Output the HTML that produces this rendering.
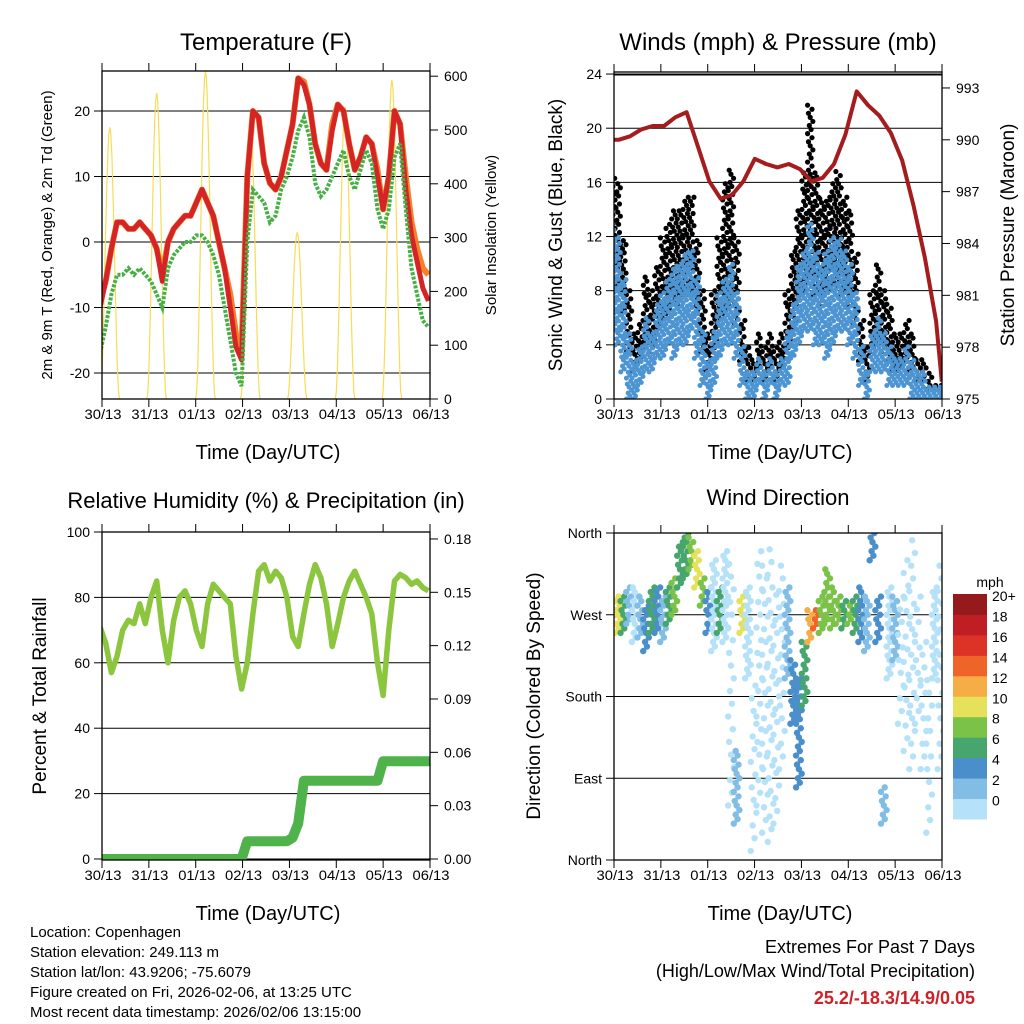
<!DOCTYPE html>
<html><head><meta charset="utf-8"><style>
html,body{margin:0;padding:0;background:#fff;}
svg{display:block;font-family:"Liberation Sans",sans-serif;}
</style></head><body>
<svg id="s" width="1024" height="1024" viewBox="0 0 1024 1024" xmlns="http://www.w3.org/2000/svg">
<defs>
<clipPath id="c1"><rect x="102" y="71" width="328" height="328"/></clipPath>
<clipPath id="c2"><rect x="614" y="72" width="328" height="327"/></clipPath>
<clipPath id="c3"><rect x="102" y="532" width="328" height="328"/></clipPath>
<clipPath id="c4"><rect x="614" y="533" width="328" height="327"/></clipPath>
</defs>
<text x="266" y="50" font-size="24" text-anchor="middle">Temperature (F)</text>
<text x="778" y="50" font-size="24" text-anchor="middle">Winds (mph) &amp; Pressure (mb)</text>
<text x="266" y="508" font-size="22" text-anchor="middle">Relative Humidity (%) &amp; Precipitation (in)</text>
<text x="778" y="505" font-size="22" text-anchor="middle">Wind Direction</text>
<text transform="translate(52,235) rotate(-90)" font-size="15" text-anchor="middle">2m &amp; 9m T (Red, Orange) &amp; 2m Td (Green)</text>
<text transform="translate(496,235) rotate(-90)" font-size="15" text-anchor="middle">Solar Insolation (Yellow)</text>
<text transform="translate(562,235) rotate(-90)" font-size="19" text-anchor="middle">Sonic Wind &amp; Gust (Blue, Black)</text>
<text transform="translate(1014,235) rotate(-90)" font-size="19" text-anchor="middle">Station Pressure (Maroon)</text>
<text transform="translate(46,696) rotate(-90)" font-size="19" text-anchor="middle">Percent &amp; Total Rainfall</text>
<text transform="translate(540,696) rotate(-90)" font-size="19" text-anchor="middle">Direction (Colored By Speed)</text>
<text x="268" y="459" font-size="20" text-anchor="middle">Time (Day/UTC)</text>
<text x="780" y="459" font-size="20" text-anchor="middle">Time (Day/UTC)</text>
<text x="268" y="920" font-size="20" text-anchor="middle">Time (Day/UTC)</text>
<text x="780" y="920" font-size="20" text-anchor="middle">Time (Day/UTC)</text>
<g font-size="15">
<text x="30" y="937">Location: Copenhagen</text>
<text x="30" y="957">Station elevation: 249.113 m</text>
<text x="30" y="977">Station lat/lon: 43.9206; -75.6079</text>
<text x="30" y="997">Figure created on Fri, 2026-02-06, at 13:25 UTC</text>
<text x="30" y="1017">Most recent data timestamp: 2026/02/06 13:15:00</text>
</g>
<text x="975" y="953" font-size="18" text-anchor="end">Extremes For Past 7 Days</text>
<text x="975" y="977" font-size="18" text-anchor="end">(High/Low/Max Wind/Total Precipitation)</text>
<text x="975" y="1004" font-size="18" font-weight="bold" fill="#cc2229" text-anchor="end">25.2/-18.3/14.9/0.05</text>
<text x="990" y="587" font-size="14" text-anchor="middle">mph</text>
</svg>
<script>
const sampleStart = -1;
const sampleStep = 2.9;
const tempRed = [-10,-6,-1,3,3,2,2,3,2,1,-1,-6,0,2,3,4,4,6,8,6,4,0,-4,-10,-16,-18,10,20,19,12,9,8,10,14,18,25,24,21,15,12,11,17,21,20,15,11,13,16,15,10,5,10,20,18,8,1,-3,-7,-9];
const tempOrange = [-9,-6,-1,3,3,2,2,3,2,1,-1,-5,0,2,3,4,4,6,8,6,4,0,-4,-8,-14,-16,10,20,19,12,9,8,10,14,18,25,24.5,21,15,12,11,18,21,20,15,11,13,16,15,11,5,10,20,18,10,3,-1,-4,-5];
const tempDew = [-17,-13,-8,-5,-5,-4,-5,-4,-5,-6,-8,-10,-4,-2,-1,0,0,1,1,0,-2,-5,-10,-15,-20,-22,0,8,7,6,3,4,8,10,13,17,19,16,9,7,8,10,12,14,10,8,11,14,12,5,2,5,13,15,5,-4,-8,-12,-13];
const solarPeakT = [4,28,53,76,100,124.5,148.5];
const solarPeakV = [505,569,610,520,310,543,593];
const windLo = [5,4,2,0,0,1,2,2,3,3,4,3,4,4,5,3,1,0,1,3,4,4,3,1,0,0,1,0,1,0,1,1,3,4,5,5,4,4,3,4,5,5,4,3,1,0,2,2,2,1,1,1,1,0,0,0,0,0,0];
const windHi = [13,12,9,5,3,4,6,5,7,8,9,10,10,11,11,9,5,3,5,8,9,10,8,4,2,2,3,2,3,2,3,5,7,10,11,13,11,10,11,12,12,11,10,8,4,2,5,6,5,4,3,3,4,3,2,2,1,1,1];
const gustHi = [17,16,12,8,5,6,9,8,10,12,13,14,14,15,15,12,8,5,8,12,16,17,12,6,4,3,5,4,5,4,5,8,11,14,17,22,17,15,15,16,17,15,14,11,6,4,8,10,8,7,5,5,6,5,3,3,2,1,1];
const pressT = [0,2.4,8.2,14.0,19.8,25.6,31.4,37.2,43.0,48.8,54.6,60.4,66.3,72.1,77.9,83.7,89.5,95.3,101.1,106.9,112.7,118.5,124.3,130.1,135.9,141.8,147.6,153.4,159.2,165.0,167.9];
const pressV = [990.0,990.0,990.2,990.6,990.8,990.8,991.3,991.6,989.6,987.6,986.6,986.8,987.6,988.9,988.6,988.4,988.6,988.3,987.6,987.8,988.6,990.3,992.8,992.0,991.4,990.4,988.8,986.2,983.2,979.5,976.0];
const rhVals = [71,66,57,62,70,73,72,78,72,80,85,70,60,73,80,82,78,70,65,78,84,82,80,78,62,52,60,75,88,90,85,88,86,80,68,65,75,84,90,86,78,65,72,80,85,88,84,80,75,60,50,70,85,87,86,84,85,83,82];
const rainVals = [0,0,0,0,0,0,0,0,0,0,0,0,0,0,0,0,0,0,0,0,0,0,0,0,0,0,0.01,0.01,0.01,0.01,0.01,0.01,0.01,0.01,0.012,0.02,0.044,0.044,0.044,0.044,0.044,0.044,0.044,0.044,0.044,0.044,0.044,0.044,0.044,0.044,0.055,0.055,0.055,0.055,0.055,0.055,0.055,0.055,0.055];
const dirLo = [255,250,250,260,240,245,230,250,250,240,260,270,300,310,320,300,280,250,230,250,240,60,40,250,200,10,60,30,20,40,100,200,150,80,170,240,255,250,260,255,260,255,260,250,240,230,330,240,40,200,220,150,120,100,150,100,30,200,100];
const dirHi = [285,290,290,300,300,290,280,300,300,290,300,310,350,360,355,340,310,300,330,300,340,330,120,290,300,200,340,330,350,300,330,300,220,200,240,275,275,290,320,300,290,285,280,290,300,290,360,290,80,300,290,300,330,360,300,250,200,300,330];
const dirSpd = [12,10,6,2,1,2,4,6,5,3,6,8,7,6,8,10,8,4,1,6,1,1,2,10,1,0,0,1,0,1,0,2,4,4,7,12,14,9,9,8,8,7,9,6,4,3,4,4,2,1,3,1,0,0,1,0,0,0,0];
const dayLabels = ["30/13","31/13","01/13","02/13","03/13","04/13","05/13","06/13"];
const tempTicks = [-20,-10,0,10,20];
const solarTicks = [0,100,200,300,400,500,600];
const windTicks = [0,4,8,12,16,20,24];
const pressTicks = [975,978,981,984,987,990,993];
const rhTicks = [0,20,40,60,80,100];
const rainTicks = [0,0.03,0.06,0.09,0.12,0.15,0.18];
const dirTicks = [0,90,180,270,360];
const dirNames = ["North","East","South","West","North"];
const cbLabels = ["0","2","4","6","8","10","12","14","16","18","20+"];
const cbColors = ["#b5e2f8","#82bde6","#4a8fc9","#47a56e","#7bc248","#e5e15a","#f5ad46","#ef6429","#dc3326","#bf1e24","#941a1c"];

const NS="http://www.w3.org/2000/svg";
const svg=document.getElementById('s');
function el(tag,attrs,parent){const e=document.createElementNS(NS,tag);for(const k in attrs)e.setAttribute(k,attrs[k]);(parent||svg).appendChild(e);return e;}
function tOf(i){return sampleStart+i*sampleStep;}
function xL(t){return 102+t*328/168;}
function xR(t){return 614+t*328/168;}
function yTemp(v){return 242-v*6.55;}
function ySolar(v){return 399-v*0.538;}
function yWind(v){return 399-v*13.54;}
function yPress(p){return 399-(p-975)*17.28;}
function yRh(v){return 859-v*3.27;}
function yRain(v){return 859-v*1778;}
function yDir(d){return 860-d*327/360;}
function spdColor(s){let k=Math.floor(s/2);if(k<0)k=0;if(k>10)k=10;return cbColors[k];}

function frame(x0,y0,w,h,name){
  const r=el('rect',{x:x0,y:y0,width:w,height:h,fill:'none',stroke:'#000','stroke-width':1.3});
  
  
  for(let i=0;i<8;i++){
    const x=x0+i*w/7;
    const tb=el('line',{x1:x,x2:x,y1:y0+h,y2:y0+h+8,stroke:'#000','stroke-width':1});
    
    
    const tt=el('line',{x1:x,x2:x,y1:y0,y2:y0-8,stroke:'#000','stroke-width':1});
    
    
    const lb=el('text',{x:x+1,y:y0+h+20,'font-size':14,'text-anchor':'middle',textLength:37,lengthAdjust:'spacingAndGlyphs'});
    lb.textContent=dayLabels[i];
    
    
  }
}
function leftTicks(vals,yf,x0,x1,fmt,grid,labels){
  vals.forEach((v,i)=>{
    const y=yf(v);
    if(grid){const g=el('line',{x1:x0,x2:x1,y1:y,y2:y,stroke:'#000','stroke-width':1});
      
      }
    const t=el('line',{x1:x0-8,x2:x0,y1:y,y2:y,stroke:'#000'});
    
    
    const l=el('text',{x:x0-12,y:y+5,'font-size':14,'text-anchor':'end'});
    l.textContent=labels?labels[i]:fmt(v);
    
    
  });
}
function rightTicks(vals,yf,x1,fmt){
  vals.forEach(v=>{
    const y=yf(v);
    const t=el('line',{x1:x1,x2:x1+8,y1:y,y2:y,stroke:'#000'});
    
    
    const l=el('text',{x:x1+14,y:y+5,'font-size':14});
    l.textContent=fmt(v);
    
    
  });
}
function linePath(xs,ys){return xs.map((x,i)=>(i?'L':'M')+x.toFixed(1)+','+ys[i].toFixed(1)).join('');}

// Panel 1
leftTicks(tempTicks,yTemp,102,430,v=>String(v),true);
rightTicks(solarTicks,ySolar,430,v=>String(v));
const g1=el('g',{'clip-path':'url(#c1)'});


solarPeakT.forEach((pt,k)=>{
  const xs=[],ys=[];
  for(let j=-10;j<=10;j++){const t=pt+j*0.5;const f=Math.max(0,Math.cos(j/10*Math.PI/2));xs.push(xL(t));ys.push(ySolar(solarPeakV[k]*f*f));}
  const p=el('path',{d:linePath(xs,ys),fill:'none',stroke:'#f7dc55','stroke-width':1.2},g1);
  
  
});
const xsT=tempRed.map((v,i)=>xL(tOf(i)));
const pO=el('path',{d:linePath(xsT,tempOrange.map(yTemp)),fill:'none',stroke:'#f5822b','stroke-width':6,'stroke-linejoin':'round'},g1);


const pR=el('path',{d:linePath(xsT,tempRed.map(yTemp)),fill:'none',stroke:'#d42426','stroke-width':5,'stroke-linejoin':'round'},g1);


const pG=el('path',{d:linePath(xsT,tempDew.map(yTemp)),fill:'none',stroke:'#46b045','stroke-width':4,'stroke-dasharray':'3 1.5'},g1);


frame(102,71,328,328,'temperature');

// Panel 2
leftTicks(windTicks,yWind,614,942,v=>String(v),true);
rightTicks(pressTicks,yPress,942,v=>String(v));
const g2=el('g',{'clip-path':'url(#c2)'});


const jit=[-0.9,0.3,-0.3,0.9,0,-0.6,0.6];
gustHi.forEach((gv,i)=>{
  const lo=windHi[i]*0.7;
  let k=0;
  for(let v=lo;v<=gv;v+=0.3,k++){
    const c=el('circle',{cx:xR(tOf(i)+jit[k%7]*1.5),cy:yWind(v),r:2.6,fill:'#000'},g2);
    
    
  }
});
windHi.forEach((hv,i)=>{
  let k=0;
  for(let v=windLo[i];v<=hv;v+=0.22,k++){
    const c=el('circle',{cx:xR(tOf(i)+jit[k%7]*1.5),cy:yWind(v),r:2.5,fill:'#4d95d2'},g2);
    
    
  }
});
const pP=el('path',{d:linePath(pressT.map(xR),pressV.map(yPress)),fill:'none',stroke:'#a51c1e','stroke-width':4,'stroke-linejoin':'round'},g2);


frame(614,72,328,327,'wind');
const dl=el('line',{x1:614,x2:942,y1:75,y2:75,stroke:'#000','stroke-width':1});



// Panel 3
leftTicks(rhTicks,yRh,102,430,v=>String(v),true);
rightTicks(rainTicks,yRain,430,v=>v.toFixed(2));
const g3=el('g',{'clip-path':'url(#c3)'});


const xs3=rhVals.map((v,i)=>xL(tOf(i)));
const pRain=el('path',{d:linePath(xs3,rainVals.map(yRain)),fill:'none',stroke:'#4fb24a','stroke-width':10,'stroke-linejoin':'round','stroke-linecap':'round'},g3);


const pRh=el('path',{d:linePath(xs3,rhVals.map(yRh)),fill:'none',stroke:'#8cc63f','stroke-width':5.5,'stroke-linejoin':'round'},g3);


frame(102,532,328,328,'humidity');

// Panel 4
leftTicks(dirTicks,yDir,614,942,null,true,dirNames);
const g4=el('g',{'clip-path':'url(#c4)'});


dirLo.forEach((lo,i)=>{
  const span=dirHi[i]-lo;
  const stepD=span>120?14:5;
  let k=0;
  for(let d=lo;d<=dirHi[i];d+=stepD,k++){
    const c=el('circle',{cx:xR(tOf(i)+jit[k%7]*1.6),cy:yDir(d),r:3.2,fill:spdColor(dirSpd[i])},g4);
    
    
  }
});
frame(614,533,328,327,'direction');
cbColors.forEach((c,i)=>{
  const h=225/11;
  const y=819-(i+1)*h;
  const r=el('rect',{x:953,y:y,width:34,height:h+0.5,fill:c});
  
  
  const l=el('text',{x:992,y:y+7,'font-size':14});
  l.textContent=cbLabels[i];
  
  
});
</script>
</body></html>
